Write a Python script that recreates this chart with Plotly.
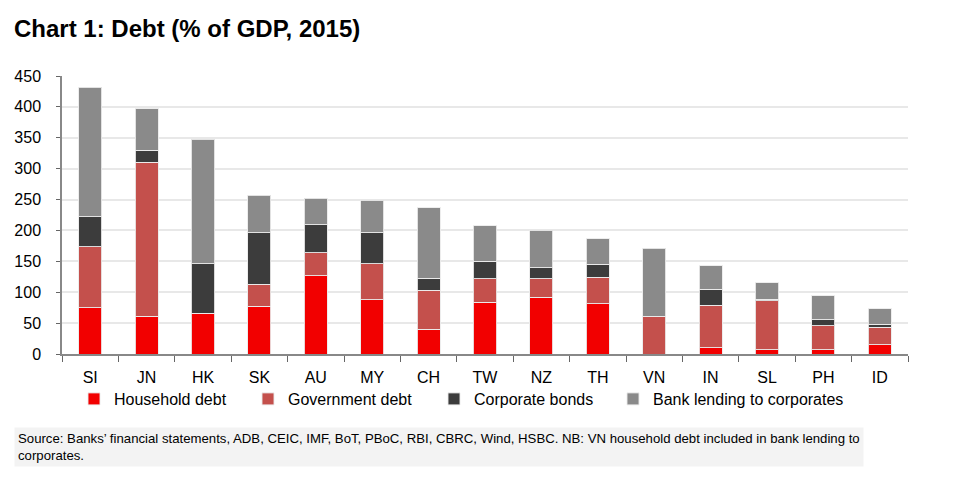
import plotly.graph_objects as go

categories = ["SI", "JN", "HK", "SK", "AU", "MY", "CH", "TW", "NZ", "TH", "VN", "IN", "SL", "PH", "ID"]
household = [75, 61, 66, 77, 127, 88, 40, 83.5, 92, 81.5, 0, 10, 6.5, 7, 15]
government = [98.5, 249, 0, 36, 37, 58, 63, 38.5, 30, 43, 60, 69, 80, 39, 28.5]
corporate_bonds = [49, 20, 80, 83, 45, 50, 20, 28.5, 17.5, 20.5, 1, 26, 2, 9.5, 5]
bank_lending = [209.5, 67, 202, 61, 43, 53, 114, 57.5, 60.5, 41.5, 110, 38, 26.5, 38.5, 25]
y_ticks = [0, 50, 100, 150, 200, 250, 300, 350, 400, 450]

series = [
    ("Household debt", household, "#F20000"),
    ("Government debt", government, "#C4504C"),
    ("Corporate bonds", corporate_bonds, "#3C3C3C"),
    ("Bank lending to corporates", bank_lending, "#8A8A8A"),
]

# legend text start pixels (one legend per series to reproduce spacing)
legend_text_x = [114, 288, 474, 653]
legend_names = ["legend", "legend2", "legend3", "legend4"]

L, R, T, B = 62, 52, 76, 129
PW = 960 - L - R
PH = 483 - T - B

fig = go.Figure()
for (name, vals, col), lg in zip(series, legend_names):
    fig.add_trace(go.Bar(
        x=categories, y=vals, name=name, legend=lg,
        marker=dict(color=col, line=dict(color="rgba(235,235,235,0.9)", width=1)),
    ))

FONT = "Liberation Sans, Arial, sans-serif"
legend_layout = {}
for lg, tx in zip(legend_names, legend_text_x):
    legend_layout[lg] = dict(
        orientation="h", x=(tx - 40 - L) / PW, y=-(399 - 354) / PH,
        xanchor="left", yanchor="middle", font=dict(size=16, color="black"),
        itemwidth=30, bgcolor="rgba(0,0,0,0)",
    )

fig.update_layout(
    barmode="stack",
    bargap=0.59,
    width=960, height=483,
    margin=dict(l=L, r=R, t=T, b=B),
    paper_bgcolor="white", plot_bgcolor="white",
    font=dict(family=FONT, size=16, color="black"),
    showlegend=True,
    title=dict(text="<b>Chart 1: Debt (% of GDP, 2015)</b>", x=14/960, xanchor="left",
               y=1 - 29/483, yanchor="middle", font=dict(size=24, family=FONT, color="black")),
    xaxis=dict(
        showline=True, linecolor="#888888", linewidth=1.5,
        ticks="outside", tickson="boundaries", ticklen=6, tickcolor="#666666",
        tickfont=dict(size=16), showgrid=False, ticklabelstandoff=8,
    ),
    yaxis=dict(
        range=[0, 450], tickvals=y_ticks, showline=True, linecolor="#888888", linewidth=1.5,
        ticks="outside", ticklen=4, tickcolor="#666666",
        showgrid=True, gridcolor="#e8e8e8", gridwidth=1.5,
        tickfont=dict(size=16), zeroline=False, ticklabelstandoff=12,
    ),
    **legend_layout,
)

fig.add_annotation(
    text="Source: Banks\u2019 financial statements, ADB, CEIC, IMF, BoT, PBoC, RBI, CBRC, Wind, HSBC. NB: VN household debt included in bank lending to<br>corporates.",
    xref="paper", yref="paper", x=(14 - L) / PW, y=-(427 - 354) / PH,
    xanchor="left", yanchor="top", align="left", showarrow=False,
    font=dict(size=13.2, family=FONT, color="black"), bgcolor="#f3f3f3", borderpad=3,
)

fig.write_html("out.html")
